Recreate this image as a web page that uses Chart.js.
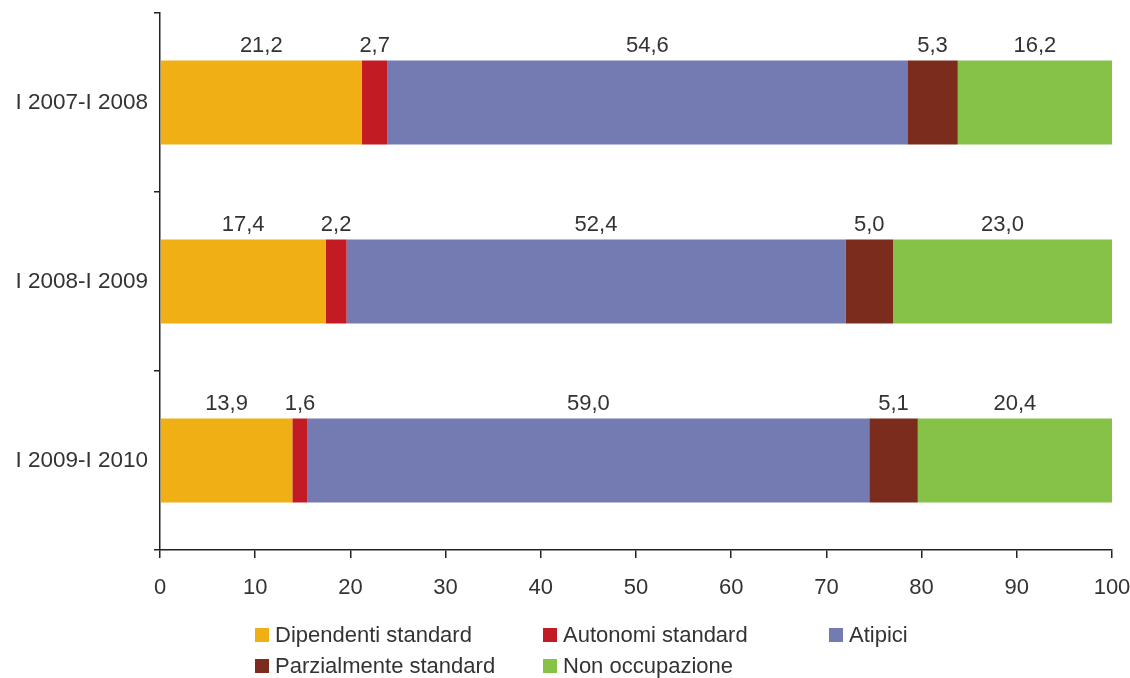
<!DOCTYPE html>
<html>
<head>
<meta charset="utf-8">
<script src="https://cdn.jsdelivr.net/npm/chart.js@4"></script>
<style>
  html, body { margin: 0; padding: 0; background: #ffffff; }
  #wrap { width: 1130px; height: 678px; }
</style>
</head>
<body>
<div id="wrap"><canvas id="c" width="1130" height="678"></canvas></div>
<script>
// Periods (one horizontal bar each)
const periods = ['I 2007-I 2008', 'I 2008-I 2009', 'I 2009-I 2010'];

// Shares (%) per destination state
const dipendentiStandard   = [21.2, 17.4, 13.9];
const autonomiStandard     = [2.7, 2.2, 1.6];
const atipici              = [54.6, 52.4, 59.0];
const parzialmenteStandard = [5.3, 5.0, 5.1];
const nonOccupazione       = [16.2, 23.0, 20.4];

// Horizontal axis range and step
const xMin = 0;
const xMax = 100;
const xStep = 10;

const seriesNames  = ['Dipendenti standard', 'Autonomi standard', 'Atipici', 'Parzialmente standard', 'Non occupazione'];
const seriesValues = [dipendentiStandard, autonomiStandard, atipici, parzialmenteStandard, nonOccupazione];
const seriesColors = ['#F0AF14', '#C21B23', '#737BB2', '#7B2C1C', '#86C148'];

const FONT = '"Liberation Sans", Arial, Helvetica, sans-serif';
const TEXT = '#333333';
const AXIS = '#222222';

// Writes each segment's value above the bar, centred on the segment
const valueLabels = {
  id: 'valueLabels',
  afterDatasetsDraw(chart) {
    const ctx = chart.ctx;
    ctx.save();
    ctx.font = '22px ' + FONT;
    ctx.fillStyle = TEXT;
    ctx.textAlign = 'center';
    ctx.textBaseline = 'middle';
    chart.data.datasets.forEach((ds, di) => {
      const meta = chart.getDatasetMeta(di);
      meta.data.forEach((bar, i) => {
        const v = ds.data[i];
        const cx = (bar.x + bar.base) / 2;
        const top = bar.y - bar.height / 2;
        ctx.fillText(v.toFixed(1).replace('.', ','), cx, top - 14);
      });
    });
    ctx.restore();
  }
};

// Legend laid out on a three-column grid under the axis
const gridLegend = {
  id: 'gridLegend',
  afterDraw(chart) {
    const ctx = chart.ctx;
    const cols = [255, 543, 829];
    const rows = [635, 666];
    ctx.save();
    ctx.font = '22px ' + FONT;
    ctx.textBaseline = 'middle';
    ctx.textAlign = 'left';
    chart.data.datasets.forEach((ds, i) => {
      const x = cols[i % 3];
      const y = rows[Math.floor(i / 3)];
      ctx.fillStyle = ds.backgroundColor;
      ctx.fillRect(x, y - 7, 14, 14);
      ctx.fillStyle = TEXT;
      ctx.fillText(ds.label, x + 20, y + 1);
    });
    ctx.restore();
  }
};

new Chart(document.getElementById('c'), {
  type: 'bar',
  data: {
    labels: periods,
    datasets: seriesNames.map((name, i) => ({
      label: name,
      data: seriesValues[i],
      backgroundColor: seriesColors[i],
      borderWidth: 0,
      barPercentage: 0.94,
      categoryPercentage: 0.5
    }))
  },
  options: {
    indexAxis: 'y',
    responsive: false,
    devicePixelRatio: 1,
    animation: false,
    layout: { padding: { top: 13, right: 18, bottom: 68, left: 0 } },
    plugins: {
      legend: { display: false },
      tooltip: { enabled: false }
    },
    scales: {
      x: {
        stacked: true,
        min: xMin,
        max: xMax,
        ticks: {
          stepSize: xStep,
          color: TEXT,
          font: { family: FONT, size: 22 },
          padding: 17,
          maxRotation: 0
        },
        grid: { drawOnChartArea: false, drawTicks: true, tickLength: 8, color: AXIS, lineWidth: 1.5 },
        border: { display: true, color: AXIS, width: 1.5 },
        afterFit(s) { s.height = 60; s.paddingLeft = 0; s.paddingRight = 0; }
      },
      y: {
        stacked: true,
        ticks: {
          color: TEXT,
          font: { family: FONT, size: 22.5 },
          padding: 6
        },
        grid: { drawOnChartArea: false, drawTicks: true, tickLength: 6, color: AXIS, lineWidth: 1.5, offset: true },
        border: { display: true, color: AXIS, width: 1.5 },
        afterFit(s) { s.width = 160; s.paddingTop = 0; s.paddingBottom = 0; }
      }
    }
  },
  plugins: [valueLabels, gridLegend]
});
</script>
</body>
</html>
